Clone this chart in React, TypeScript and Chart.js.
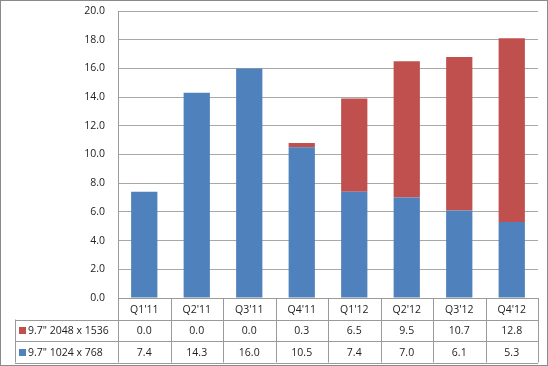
import React, { useEffect, useRef } from "react";
import { Chart, registerables } from "chart.js";

Chart.register(...registerables);

const categories = ["Q1'11", "Q2'11", "Q3'11", "Q4'11", "Q1'12", "Q2'12", "Q3'12", "Q4'12"];
const seriesHiName = '9.7" 2048 x 1536';
const seriesLoName = '9.7" 1024 x 768';
const seriesHi = [0.0, 0.0, 0.0, 0.3, 6.5, 9.5, 10.7, 12.8];
const seriesLo = [7.4, 14.3, 16.0, 10.5, 7.4, 7.0, 6.1, 5.3];
const yTicks = { min: 0, max: 20, step: 2 };

const BLUE = "#4F81BD";
const RED = "#C0504D";
const FONT = "'Open Sans', 'Noto Sans', sans-serif";

const tablePlugin = {
  id: "dataTable",
  afterDraw(chart: any) {
    const ctx = chart.ctx;
    const area = chart.chartArea;
    const x = chart.scales.x;
    const n = categories.length;
    const colW = (area.right - area.left) / n;
    const top = area.bottom;
    const rowH = 21.5;
    const r1 = top + rowH;
    const r2 = r1 + rowH;
    const r3 = r2 + rowH;
    const legLeft = 15;
    ctx.save();
    ctx.strokeStyle = "#9a9a9a";
    ctx.lineWidth = 1;
    ctx.beginPath();
    for (let i = 0; i <= n; i++) {
      const px = Math.round(area.left + i * colW) + 0.5;
      ctx.moveTo(px, top);
      ctx.lineTo(px, r3);
    }
    ctx.moveTo(legLeft + 0.5, r1);
    ctx.lineTo(legLeft + 0.5, r3);
    ctx.moveTo(legLeft, Math.round(r1) + 0.5);
    ctx.lineTo(area.right, Math.round(r1) + 0.5);
    ctx.moveTo(legLeft, Math.round(r2) + 0.5);
    ctx.lineTo(area.right, Math.round(r2) + 0.5);
    ctx.moveTo(legLeft, Math.round(r3) + 0.5);
    ctx.lineTo(area.right, Math.round(r3) + 0.5);
    ctx.stroke();

    ctx.fillStyle = "#222";
    ctx.font = `10.5px ${FONT}`;
    ctx.textAlign = "center";
    ctx.textBaseline = "middle";
    categories.forEach((c, i) => {
      const cx = x.getPixelForValue(i);
      ctx.fillText(c, cx, (top + r1) / 2 + 1);
      ctx.fillText(seriesHi[i].toFixed(1), cx, (r1 + r2) / 2 + 1);
      ctx.fillText(seriesLo[i].toFixed(1), cx, (r2 + r3) / 2 + 1);
    });
    ctx.textAlign = "left";
    ctx.fillStyle = RED;
    ctx.fillRect(19, Math.round((r1 + r2) / 2) - 3, 7, 7);
    ctx.fillStyle = BLUE;
    ctx.fillRect(19, Math.round((r2 + r3) / 2) - 3, 7, 7);
    ctx.fillStyle = "#222";
    ctx.fillText(seriesHiName, 28, (r1 + r2) / 2 + 1);
    ctx.fillText(seriesLoName, 28, (r2 + r3) / 2 + 1);
    ctx.strokeStyle = "#8a8a8a";
    ctx.strokeRect(0.5, 0.5, chart.width - 1, chart.height - 1);
    ctx.restore();
  },
};

export default function App() {
  const ref = useRef<HTMLCanvasElement | null>(null);
  useEffect(() => {
    document.body.style.margin = "0";
    if (!ref.current) return;
    const chart = new Chart(ref.current, {
      type: "bar",
      data: {
        labels: categories,
        datasets: [
          { label: seriesLoName, data: seriesLo, backgroundColor: BLUE, barPercentage: 0.5, categoryPercentage: 1 },
          { label: seriesHiName, data: seriesHi, backgroundColor: RED, barPercentage: 0.5, categoryPercentage: 1 },
        ],
      },
      options: {
        responsive: false,
        animation: false,
        layout: { padding: { top: 11, right: 10, bottom: 68, left: 0 } },
        plugins: { legend: { display: false }, tooltip: { enabled: false } },
        scales: {
          x: {
            stacked: true,
            ticks: { display: false },
            grid: { display: false },
            border: { display: true, color: "#9a9a9a" },
            afterFit(s: any) { s.height = 0; s.paddingLeft = 0; s.paddingRight = 0; },
          },
          y: {
            stacked: true,
            min: yTicks.min,
            max: yTicks.max,
            ticks: {
              stepSize: yTicks.step,
              color: "#222",
              font: { size: 10.5, family: FONT },
              padding: 13,
              callback: (v: any) => Number(v).toFixed(1),
            },
            grid: { color: "#a8a8a8", drawTicks: false },
            border: { display: true, color: "#9a9a9a" },
            afterFit(s: any) { s.width = 118; s.paddingTop = 0; s.paddingBottom = 0; },
          },
        },
      },
      plugins: [tablePlugin],
    });
    return () => chart.destroy();
  }, []);
  return <canvas ref={ref} width={548} height={366} style={{ display: "block" }} />;
}
